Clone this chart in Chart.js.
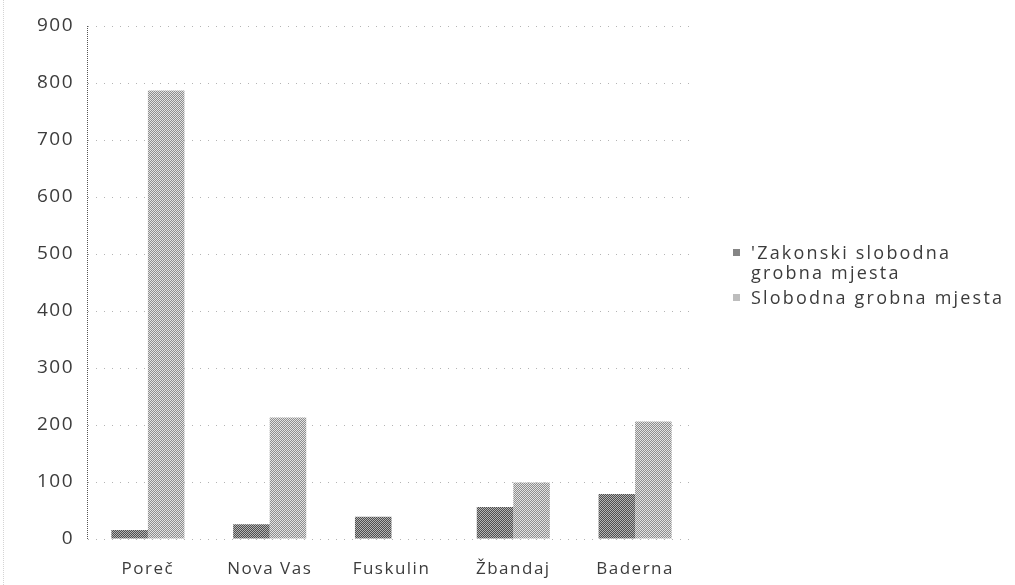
<!DOCTYPE html>
<html>
<head>
<meta charset="utf-8">
<script src="https://cdn.jsdelivr.net/npm/chart.js@4.4.1/dist/chart.umd.min.js"></script>
<style>
  html, body { margin: 0; padding: 0; background: #fff; }
  #wrap { position: relative; width: 1015px; height: 585px; }
  #scanEdge { position: absolute; left: 3px; top: 0; height: 585px; border-left: 1px dotted #d4d4d4; }
  #legend {
    position: absolute; left: 731px; top: 242px;
    font-family: 'Open Sans', sans-serif; font-size: 18px; letter-spacing: 2.2px;
    color: #3c3c3c; line-height: 20px;
  }
  #legend .item { position: relative; padding-left: 20px; margin-bottom: 5px; }
  #legend .box { position: absolute; left: 2px; top: 7px; width: 7px; height: 7px; }
</style>
</head>
<body>
<div id="wrap">
  <div id="scanEdge"></div>
  <canvas id="chart" width="1015" height="585"></canvas>
  <div id="legend"></div>
</div>
<script>
// data
const categories = ['Poreč', 'Nova Vas', 'Fuskulin', 'Žbandaj', 'Baderna'];
const zakonskiSlobodna = [16, 26, 39, 56, 79];
const slobodna = [787, 213, 0, 99, 206];
const seriesLabels = [["'Zakonski slobodna", 'grobna mjesta'], ['Slobodna grobna mjesta']];
const yTicks = [0, 100, 200, 300, 400, 500, 600, 700, 800, 900];

const textColor = '#3c3c3c';

// speckled fill, roughly like the halftone in the scan (ordered dither, no randomness)
function makeStipple(darkCol, lightCol, level) {
  const bayer = [0, 8, 2, 10, 12, 4, 14, 6, 3, 11, 1, 9, 15, 7, 13, 5];
  const c = document.createElement('canvas');
  c.width = 4; c.height = 4;
  const g = c.getContext('2d');
  for (let i = 0; i < 16; i++) {
    g.fillStyle = (bayer[i] / 16) < level ? lightCol : darkCol;
    g.fillRect(i % 4, Math.floor(i / 4), 1, 1);
  }
  return g.createPattern(c, 'repeat');
}

// dotted stroke for the y axis line
function makeDots(col) {
  const c = document.createElement('canvas');
  c.width = 2; c.height = 2;
  const g = c.getContext('2d');
  g.fillStyle = col;
  g.fillRect(0, 0, 2, 1);
  return g.createPattern(c, 'repeat');
}

const ctx = document.getElementById('chart').getContext('2d');
const darkFill = makeStipple('#4e4e4e', '#b4b4b4', 0.45);
const lightFill = makeStipple('#8e8e8e', '#e2e2e2', 0.5);

// wide tracking of the original font
const spacingPlugin = {
  id: 'spacing',
  beforeDraw(chart) { chart.ctx.letterSpacing = '1.5px'; }
};

new Chart(ctx, {
  type: 'bar',
  data: {
    labels: categories,
    datasets: [
      { label: seriesLabels[0].join(' '), data: zakonskiSlobodna, backgroundColor: darkFill },
      { label: seriesLabels[1].join(' '), data: slobodna, backgroundColor: lightFill }
    ]
  },
  options: {
    responsive: false,
    animation: false,
    layout: { padding: { top: 26, right: 319, left: 0, bottom: 0 } },
    datasets: { bar: { categoryPercentage: 0.6, barPercentage: 1.0 } },
    plugins: { legend: { display: false }, tooltip: { enabled: false } },
    scales: {
      x: {
        grid: { display: false },
        border: { display: false },
        ticks: {
          color: textColor, padding: 12,
          font: { family: 'Open Sans', size: 17 }
        },
        afterFit(scale) { scale.height = 46; }
      },
      y: {
        min: 0, max: 900,
        afterBuildTicks(scale) { scale.ticks = yTicks.map(v => ({ value: v })); },
        grid: { color: '#b4b4b4', lineWidth: 1, drawTicks: false },
        border: { display: true, color: makeDots('#555'), dash: [1, 7] },
        ticks: {
          color: textColor, padding: 13,
          font: { family: 'Open Sans', size: 19 }
        },
        afterFit(scale) { scale.width = 87; }
      }
    }
  },
  plugins: [spacingPlugin]
});

// legend with the two-line label of the original
const legend = document.getElementById('legend');
const fills = ['#858585', '#bdbdbd'];
seriesLabels.forEach((lines, i) => {
  const item = document.createElement('div');
  item.className = 'item';
  item.innerHTML = `<span class="box" style="background:${fills[i]}"></span>${lines.join('<br>')}`;
  legend.appendChild(item);
});
</script>
</body>
</html>
